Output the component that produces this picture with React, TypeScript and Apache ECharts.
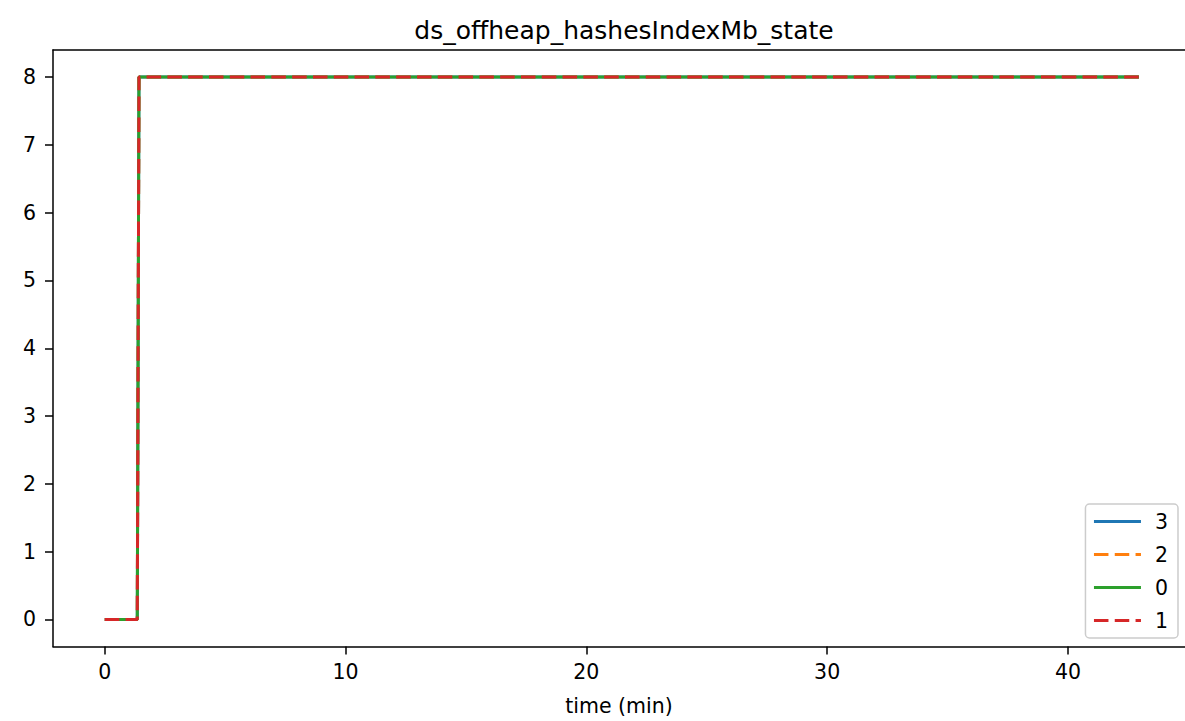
import React, { useEffect, useRef } from "react";
import * as echarts from "echarts";

const titleText = "ds_offheap_hashesIndexMb_state";
const xAxisName = "time (min)";
const xTicks = [0, 10, 20, 30, 40];
const yTicks = [0, 1, 2, 3, 4, 5, 6, 7, 8];
const timeMin = [0, 1.35, 1.42, 42.95];
const seriesNames = ["3", "2", "0", "1"];
const values3 = [0, 0, 8, 8];
const values2 = [0, 0, 8, 8];
const values0 = [0, 0, 8, 8];
const values1 = [0, 0, 8, 8];
const seriesValues = [values3, values2, values0, values1];
const colors = ["#1f77b4", "#ff7f0e", "#2ca02c", "#d62728"];
const dashed = [false, true, false, true];

const FONT = "DejaVu Sans";

export default function App() {
  const ref = useRef<HTMLDivElement>(null);
  useEffect(() => {
    if (!ref.current) return;
    const chart = echarts.init(ref.current, null, { renderer: "svg" });
    const xMin = -2.15;
    const xMax = 44.86;
    const yMin = -0.4;
    const yMax = 8.4;
    const axisBase = {
      type: "value" as const,
      min: xMin,
      max: xMax,
      splitLine: { show: false },
    };
    chart.setOption({
      animation: false,
      backgroundColor: "#ffffff",
      title: {
        text: titleText,
        left: 619,
        textAlign: "center",
        top: 13,
        textStyle: { fontFamily: FONT, fontSize: 25, fontWeight: "normal", color: "#000" },
      },
      grid: { left: 53, right: 0, top: 50, bottom: 71, containLabel: false },
      xAxis: [
        {
          ...axisBase,
          position: "bottom",
          name: xAxisName,
          nameLocation: "middle",
          nameGap: 59,
          nameTextStyle: { fontFamily: FONT, fontSize: 20.5, color: "#000", verticalAlign: "middle" },
          axisLine: { show: true, onZero: false, lineStyle: { color: "#000", width: 1.5 } },
          axisTick: { show: true, customValues: xTicks, length: 8, lineStyle: { color: "#000", width: 1.5 } },
          axisLabel: { show: true, customValues: xTicks, margin: 15, fontFamily: FONT, fontSize: 20.5, color: "#000" },
        },
        {
          ...axisBase,
          position: "top",
          axisLine: { show: true, onZero: false, lineStyle: { color: "#000", width: 1.5 } },
          axisTick: { show: false },
          axisLabel: { show: false },
        },
      ],
      yAxis: {
        type: "value",
        min: yMin,
        max: yMax,
        splitLine: { show: false },
        axisLine: { show: true, onZero: false, lineStyle: { color: "#000", width: 1.5 } },
        axisTick: { show: true, customValues: yTicks, length: 8, lineStyle: { color: "#000", width: 1.5 } },
        axisLabel: { show: true, customValues: yTicks, margin: 17, fontFamily: FONT, fontSize: 20.5, color: "#000" },
      },
      legend: {
        orient: "vertical",
        right: 7,
        bottom: 83,
        data: seriesNames,
        itemWidth: 47,
        itemHeight: 14,
        itemGap: 12,
        padding: [7, 10, 7, 7],
        backgroundColor: "rgba(255,255,255,0.8)",
        borderColor: "#cccccc",
        borderWidth: 1.5,
        borderRadius: 4,
        itemStyle: { opacity: 0 },
        lineStyle: { width: 3 },
        textStyle: { fontFamily: FONT, fontSize: 20.5, color: "#000", padding: [0, 0, 0, 9] },
      },
      series: seriesNames.map((name, i) => ({
        name,
        type: "line",
        data: timeMin.map((t, j) => [t, seriesValues[i][j]]),
        showSymbol: false,
        symbol: "none",
        color: colors[i],
        lineStyle: {
          color: colors[i],
          width: 3,
          type: dashed[i] ? [14.5, 6.3] : "solid",
        },
        z: 2 + i,
      })),
    });
    return () => chart.dispose();
  }, []);
  return (
    <div
      ref={ref}
      style={{ position: "fixed", left: 0, top: 0, width: 1185, height: 721 }}
    />
  );
}
